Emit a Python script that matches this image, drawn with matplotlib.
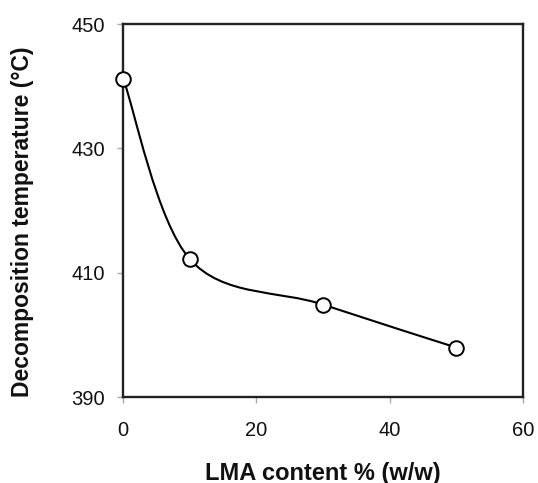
import numpy as np
import matplotlib
matplotlib.use("Agg")
import matplotlib.pyplot as plt
from matplotlib.path import Path
from matplotlib.patches import PathPatch

# data
lma_content = [0, 10, 30, 50]
decomp_temp = [441.2, 412.2, 404.9, 398.0]

x_ticks = [0, 20, 40, 60]
y_ticks = [390, 410, 430, 450]

plt.rcParams["font.family"] = ["Liberation Sans", "DejaVu Sans"]


def smooth_path(xs, ys):
    """Excel-like smoothed line: Catmull-Rom segments as cubic Beziers."""
    pts = np.column_stack([xs, ys]).astype(float)
    n = len(pts)
    verts = [pts[0]]
    codes = [Path.MOVETO]
    for i in range(n - 1):
        p_prev = pts[i - 1] if i > 0 else pts[i]
        p_next = pts[i + 2] if i + 2 < n else pts[i + 1]
        c1 = pts[i] + (pts[i + 1] - p_prev) / 6.0
        c2 = pts[i + 1] - (p_next - pts[i]) / 6.0
        verts += [c1, c2, pts[i + 1]]
        codes += [Path.CURVE4] * 3
    return Path(verts, codes)


W, H = 538, 483
fig = plt.figure(figsize=(W / 100, H / 100), dpi=100)
ax = fig.add_axes([123.3 / W, 1 - 397.3 / H, 399.5 / W, 373.3 / H])

ax.add_patch(PathPatch(smooth_path(lma_content, decomp_temp), facecolor="none",
                       edgecolor="black", linewidth=1.5, zorder=2))
ax.plot(lma_content, decomp_temp, linestyle="none", marker="o", markersize=10.5,
        markerfacecolor="white", markeredgecolor="black", markeredgewidth=1.4,
        zorder=3, clip_on=False)

ax.set_xlim(0, 60)
ax.set_ylim(390, 450)
ax.set_xticks(x_ticks)
ax.set_yticks(y_ticks)
ax.tick_params(direction="out", length=4, width=1, colors="#aaaaaa",
               labelsize=14.5, labelcolor="#111111")
ax.tick_params(axis="x", pad=13)
ax.tick_params(axis="y", pad=9)
for sp in ax.spines.values():
    sp.set_linewidth(1.7)
    sp.set_color("#222222")

ax.set_xlabel("LMA content % (w/w)", fontsize=17, fontweight="bold", color="#111111")
ax.xaxis.set_label_coords(0.5, -0.172)
ax.set_ylabel("Decomposition temperature (°C)", fontsize=16.5, fontweight="bold",
              color="#111111")
ax.yaxis.set_label_coords(-0.2235, 0.47)

fig.savefig("out.png", dpi=100)
